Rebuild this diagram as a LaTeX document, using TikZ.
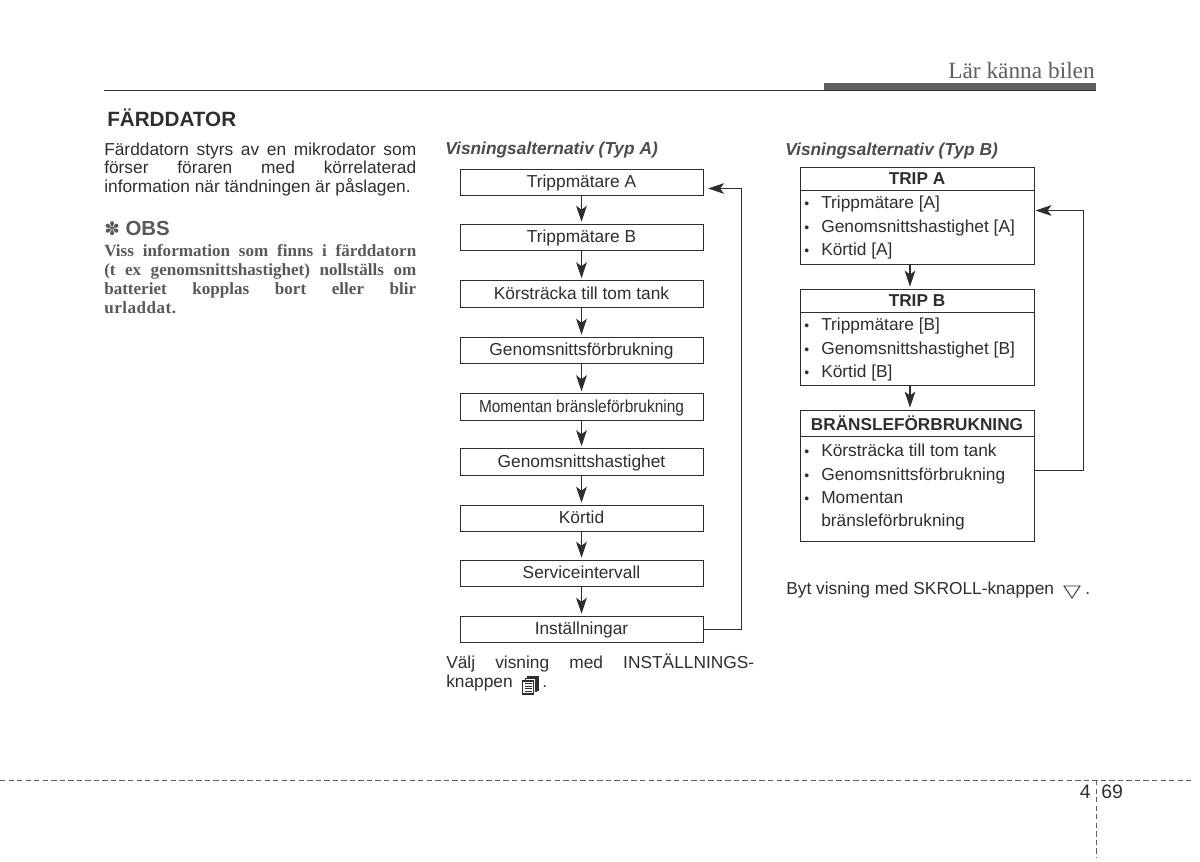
\documentclass[tikz,border=0pt]{standalone}
\usepackage{fontspec}
\setmainfont{Liberation Sans}
\newfontfamily\serifface{Liberation Serif}
\usetikzlibrary{arrows.meta}
\definecolor{ink}{HTML}{2E2E2E}
\definecolor{obsgray}{HTML}{595959}
\definecolor{rulegray}{HTML}{5F5F5F}
\tikzset{
  pbox/.style={draw=ink,line width=0.65pt,inner sep=0pt,text=ink,font=\fontsize{13}{15}\selectfont},
  flowbox/.style={pbox,minimum width=182.25pt,minimum height=20pt,text height=9pt,text depth=1pt},
  headbox/.style={pbox,minimum width=175.5pt,text height=9pt,text depth=0pt,font=\fontsize{12.9}{15}\bfseries\selectfont},
  bodybox/.style={pbox,minimum width=175.5pt},
  flowarrow/.style={draw=ink,line width=0.8pt,shorten >=1.5pt,-{Stealth[length=12pt,width=8pt,inset=3pt]}},
  looparrow/.style={draw=ink,line width=0.65pt,-{Stealth[length=12pt,width=8pt,inset=3pt]}},
  txt/.style={anchor=base west,inner sep=0pt,text=ink,font=\fontsize{13}{15}\selectfont},
  note/.style={anchor=base west,inner sep=0pt,text=obsgray,font=\fontsize{12.8}{15}\serifface\bfseries\selectfont},
  subhead/.style={anchor=base west,inner sep=0pt,text=rulegray!80!black,font=\fontsize{13}{15}\bfseries\itshape\selectfont},
  pagedash/.style={draw=rulegray,line width=0.75pt,dash pattern=on 4pt off 2.4pt},
}
\newcommand{\bul}{\raisebox{-0.4pt}{\fontsize{10.5}{12}\selectfont •}}
\begin{document}
\begin{tikzpicture}[x=0.75pt,y=-0.75pt]
\useasboundingbox (0,0) rectangle (1200,861);
% page header
\fill[rulegray] (824,82.5) rectangle (1096,91);
\draw[ink,line width=0.75pt] (104,90) -- (1096,90);
\node[anchor=base east,inner sep=0pt,text=rulegray,font=\fontsize{17.5}{19}\serifface\selectfont] (pagetitle) at (1095,78) {Lär känna bilen};
% left column
\node[txt,font=\fontsize{15.5}{17}\bfseries\selectfont] (title) at (107,126.5) {FÄRDDATOR};
\node[txt] (intro1) at (104,155) {\makebox[234pt][s]{Färddatorn styrs av en mikrodator som}};
\node[txt] (intro2) at (104,173.5) {\makebox[234pt][s]{förser föraren med körrelaterad}};
\node[txt] (intro3) at (104,192) {information när tändningen är påslagen.};
\node[anchor=base west,inner sep=0pt,text=obsgray,font=\fontsize{15.3}{17}\bfseries\selectfont] (obs) at (104,235) {{\fontspec{DejaVu Sans}\fontsize{14}{15}\selectfont ✽} OBS};
\node[note] (note1) at (104,256) {\makebox[234pt][s]{Viss information som finns i färddatorn}};
\node[note] (note2) at (104,275) {\makebox[234pt][s]{(t ex genomsnittshastighet) nollställs om}};
\node[note] (note3) at (104,294) {\makebox[234pt][s]{batteriet kopplas bort eller blir}};
\node[note] (note4) at (104,313) {\addfontfeature{LetterSpace=3}urladdat.};
% type A
\node[subhead] (subA) at (445,154) {Visningsalternativ (Typ A)};
\node[flowbox] (a1) at (581.5,182.5) {Trippmätare A};
\node[flowbox] (a2) at (581.5,237.5) {Trippmätare B};
\node[flowbox] (a3) at (581.5,294) {Körsträcka till tom tank};
\node[flowbox] (a4) at (581.5,350.5) {Genomsnittsförbrukning};
\node[flowbox] (a5) at (581.5,407) {\scalebox{0.89}[1]{Momentan bränsleförbrukning}};
\node[flowbox] (a6) at (581.5,462) {Genomsnittshastighet};
\node[flowbox] (a7) at (581.5,518.5) {Körtid};
\node[flowbox] (a8) at (581.5,573.5) {Serviceintervall};
\node[flowbox] (a9) at (581.5,629.5) {Inställningar};
\foreach \p/\q in {a1/a2,a2/a3,a3/a4,a4/a5,a5/a6,a6/a7,a7/a8,a8/a9}
  \draw[flowarrow] (\p) -- (\q);
\coordinate (a1in) at ([xshift=3.5pt,yshift=-4.5pt]a1.east);
\draw[looparrow] (a9.east) -- (741.5,629.5) |- (a1in);
\node[txt] (valj1) at (446,668) {\makebox[231pt][s]{Välj visning med INSTÄLLNINGS-}};
\node[txt] (valj2) at (446,687) {knappen};
\node[txt] (valj3) at (542,687) {.};
% settings icon
\begin{scope}[ink,line width=0.8pt]
  \draw (528,679) -- (528,677) -- (538,677) -- (538,690) -- (535.5,690);
  \draw (525.5,681) -- (525.5,678.8) -- (536,678.8) -- (536,692);
  \draw[fill=white] (522.5,681) -- (533.5,681) -- (533.5,694) -- (522.5,694) -- cycle;
  \foreach \yy in {683.8,686.3,688.8,691.3} \draw[line width=0.7pt] (524.5,\yy) -- (531.5,\yy);
\end{scope}
% type B
\node[subhead] (subB) at (785,155) {Visningsalternativ (Typ B)};
\node[headbox,minimum height=17.25pt] (ha) at (917,178.5) {TRIP A};
\node[bodybox,minimum height=55.5pt] (ba) at (917,227) {};
\node[headbox,minimum height=17.25pt] (hb) at (917,300.5) {TRIP B};
\node[bodybox,minimum height=54.75pt] (bb) at (917,348.5) {};
\node[headbox,minimum height=19.5pt,text height=10.5pt,text depth=0pt] (hc) at (917,423) {BRÄNSLEFÖRBRUKNING};
\node[bodybox,minimum height=78.75pt] (bc) at (917,488.5) {};
\foreach \yy/\t/\n in {208/Trippmätare [A]/la1,232/Genomsnittshastighet [A]/la2,255/Körtid [A]/la3,
  330/Trippmätare [B]/lb1,354/Genomsnittshastighet [B]/lb2,377/Körtid [B]/lb3,
  456/Körsträcka till tom tank/lc1,480/Genomsnittsförbrukning/lc2,503/Momentan/lc3}{
  \node[txt] (\n) at (821,\yy) {\t};
  \node[txt] (\n dot) at (804,\yy) {\bul};
}
\node[txt] (lc4) at (821,526) {bränsleförbrukning};
\draw[flowarrow] ([xshift=-5.25pt]ba.south) -- ([xshift=-5.25pt]hb.north);
\draw[flowarrow] ([xshift=-5.25pt]bb.south) -- ([xshift=-5.25pt]hc.north);
\coordinate (bcout) at (1034,470);
\coordinate (bain) at (1035.5,210.5);
\draw[looparrow] (bcout) -- (1083,470) |- (bain);
\node[txt] (byt) at (786,594) {Byt visning med SKROLL-knappen};
\draw[ink,line width=0.7pt] (1064,586) -- (1080,586) -- (1072,598) -- cycle;
\node[txt] (bytdot) at (1085,594) {.};
% footer
\draw[pagedash] (0,780) -- (1192,780);
\draw[pagedash] (1096,780) -- (1096,858);
\node[anchor=base east,inner sep=0pt,text=ink,font=\fontsize{14.6}{17}\selectfont] (pn1) at (1091,798) {4};
\node[anchor=base west,inner sep=0pt,text=ink,font=\fontsize{14.6}{17}\selectfont] (pn2) at (1101,798) {69};
\end{tikzpicture}
\end{document}
